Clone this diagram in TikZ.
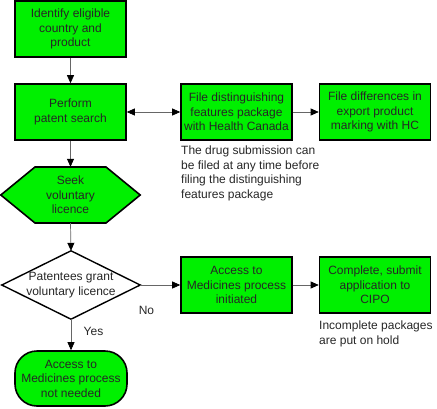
\documentclass[tikz,border=0pt]{standalone}
\usepackage{fontspec}
\setmainfont{Liberation Sans}
\usetikzlibrary{arrows.meta}
\definecolor{boxgreen}{RGB}{0,240,0}
\begin{document}
\begin{tikzpicture}[x=1pt,y=-1pt,
  lbl/.style={font=\fontsize{12}{14.5}\selectfont, text=black!85},
  box/.style={lbl, draw=black, line width=1.6pt, fill=boxgreen, minimum width=111pt, minimum height=56pt, inner sep=0pt, align=center},
  shapetext/.style={lbl, inner sep=0pt, align=center},
  outline/.style={draw=black, line width=1.6pt},
  note/.style={lbl, align=left, anchor=north west, inner sep=0pt},
  tip/.tip={Triangle[length=8pt,width=7pt,color=black]},
  conn/.style={draw=black!60, line width=0.7pt, -tip}]
\useasboundingbox (0,0) rectangle (437,408);

\node[box] (b1) at (70.5,29) {Identify eligible\\country and\\product};
\node[box] (b2) at (70.5,112) {Perform\\patent search};
\node[box] (b3) at (236.5,112) {File distinguishing\\features package\\with Health Canada};
\node[box] (b4) at (375,112) {File differences in\\export product\\marking with HC};

\node[note] (n1) at (181,146) {The drug submission can\\be filed at any time before\\filing the distinguishing\\features package};

% hexagon
\node[shapetext, minimum width=139pt, minimum height=56pt] (hex) at (70.5,195) {};
\draw[outline, fill=boxgreen] (hex.west) -- (35,167) -- (106,167) -- (hex.east) -- (106,223) -- (35,223) -- cycle;
\node[shapetext] at (hex.center) {Seek\\voluntary\\licence};

% diamond
\node[shapetext, minimum width=138pt, minimum height=68pt] (dia) at (71,285) {};
\draw[outline, line width=1.4pt, fill=white] (dia.west) -- (dia.north) -- (dia.east) -- (dia.south) -- cycle;
\node[shapetext] at (dia.center) {Patentees grant\\voluntary licence};

\node[box] (b5) at (236.5,285) {Access to\\Medicines process\\initiated};
\node[box] (b6) at (375,285) {Complete, submit\\application to\\CIPO};
\node[note] (n2) at (319,321) {Incomplete packages\\are put on hold};

\node[box, minimum width=112pt, minimum height=55pt, rounded corners=22pt] (term) at (71,378.5) {Access to\\Medicines process\\not needed};

\node[lbl, inner sep=0pt] (no) at (146.5,310) {No};
\node[lbl, inner sep=0pt] (yes) at (93.5,331) {Yes};

\draw[conn] (b1) -- (b2);
\draw[conn, tip-tip] (b2) -- (b3);
\draw[conn] (b3) -- (b4);
\draw[conn] (b2) -- (hex.north);
\draw[conn] (hex.south) -- (dia.north);
\draw[conn] (dia.east) -- (b5);
\draw[conn] (b5) -- (b6);
\draw[conn] (dia.south) -- (term);
\end{tikzpicture}
\end{document}
